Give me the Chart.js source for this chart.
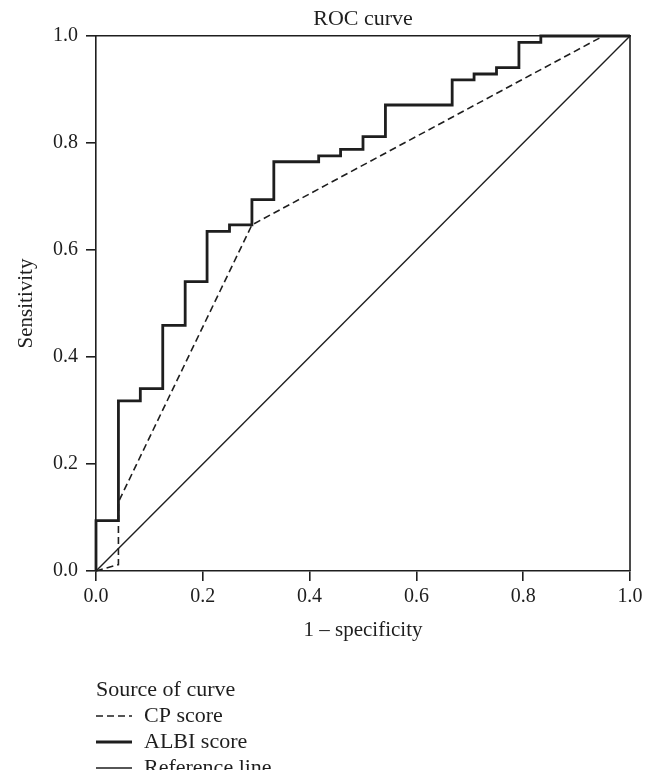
<!DOCTYPE html>
<html>
<head>
<meta charset="utf-8">
<script src="https://cdn.jsdelivr.net/npm/chart.js@4/dist/chart.umd.min.js"></script>
<style>
  html, body { margin: 0; padding: 0; background: #fff; }
</style>
</head>
<body>
<canvas id="rocChart" width="657" height="770"></canvas>
<script>
// Coordonnées ROC (1 - spécificité, sensibilité)
const albiFpr = [0, 0, 0.042, 0.083, 0.125, 0.167, 0.208, 0.25, 0.292, 0.333, 0.417, 0.458, 0.5, 0.542, 0.667, 0.708, 0.75, 0.792, 0.833, 1];
const albiTpr = [0, 0.094, 0.318, 0.341, 0.459, 0.541, 0.635, 0.647, 0.694, 0.765, 0.776, 0.788, 0.812, 0.871, 0.918, 0.929, 0.941, 0.988, 1, 1];

const cpFpr = [0, 0.042, 0.042, 0.292, 0.95, 1];
const cpTpr = [0, 0.012, 0.129, 0.647, 1, 1];

const refFpr = [0, 1];
const refTpr = [0, 1];

const tickValues = [0, 0.2, 0.4, 0.6, 0.8, 1.0];
const seriesLabels = ['CP score', 'ALBI score', 'Reference line'];
const legendTitle = 'Source of curve';

const ink = '#1e1e1e';
const serif = '"Liberation Serif", "Times New Roman", serif';

const toPoints = (xs, ys) => xs.map((x, i) => ({ x: x, y: ys[i] }));

// Bord droit + légende verticale sous le graphique
const frameLegend = {
    id: 'frameLegend',
    afterDraw(chart) {
        const { ctx, chartArea: a } = chart;
        ctx.save();
        ctx.strokeStyle = ink;
        ctx.lineWidth = 1.6;
        ctx.beginPath();
        ctx.moveTo(a.right, a.top);
        ctx.lineTo(a.right, a.bottom);
        ctx.stroke();

        ctx.fillStyle = ink;
        ctx.font = '22px ' + serif;
        ctx.textBaseline = 'middle';
        ctx.textAlign = 'left';
        const x0 = a.left;
        let y = 690;
        ctx.fillText(legendTitle, x0, y);
        chart.data.datasets.forEach(ds => {
            y += 26;
            ctx.beginPath();
            ctx.setLineDash(ds.borderDash || []);
            ctx.lineWidth = ds.borderWidth;
            ctx.moveTo(x0, y);
            ctx.lineTo(x0 + 36, y);
            ctx.stroke();
            ctx.setLineDash([]);
            ctx.fillText(ds.label, x0 + 48, y);
        });
        ctx.restore();
    }
};

const axisTicks = {
    color: ink,
    font: { family: serif, size: 20 },
    callback: v => Number(v).toFixed(1)
};

new Chart(document.getElementById('rocChart'), {
    type: 'scatter',
    data: {
        datasets: [
            {
                label: seriesLabels[0],
                data: toPoints(cpFpr, cpTpr),
                borderColor: ink,
                borderWidth: 1.6,
                borderDash: [7, 4],
                showLine: true,
                pointRadius: 0,
                clip: false
            },
            {
                label: seriesLabels[1],
                data: toPoints(albiFpr, albiTpr),
                borderColor: ink,
                borderWidth: 2.8,
                stepped: 'before',
                showLine: true,
                pointRadius: 0,
                clip: false
            },
            {
                label: seriesLabels[2],
                data: toPoints(refFpr, refTpr),
                borderColor: ink,
                borderWidth: 1.4,
                showLine: true,
                pointRadius: 0,
                clip: false
            }
        ]
    },
    options: {
        responsive: false,
        animation: false,
        events: [],
        layout: { padding: { left: 0, right: 27, top: 0, bottom: 127 } },
        plugins: {
            legend: { display: false },
            tooltip: { enabled: false }
        },
        scales: {
            x: {
                type: 'linear',
                min: 0,
                max: 1,
                afterBuildTicks: s => { s.ticks = tickValues.map(v => ({ value: v })); },
                afterFit: s => { s.height = 72; },
                ticks: { ...axisTicks, padding: 4, maxRotation: 0 },
                grid: { drawOnChartArea: false, drawTicks: true, tickLength: 10, color: ink, lineWidth: 1.6 },
                border: { display: true, color: ink, width: 1.6 },
                title: {
                    display: true,
                    text: '1 – specificity',
                    color: ink,
                    font: { family: serif, size: 21 },
                    padding: { top: 0, bottom: 0 }
                }
            },
            // axe du haut : sert au titre et au bord supérieur
            x2: {
                type: 'linear',
                position: 'top',
                min: 0,
                max: 1,
                afterFit: s => { s.height = 36; },
                ticks: { display: false },
                grid: { display: true, drawOnChartArea: false, drawTicks: false },
                border: { display: true, color: ink, width: 1.6 },
                title: {
                    display: true,
                    text: 'ROC curve',
                    color: ink,
                    font: { family: serif, size: 22 },
                    padding: { top: 6, bottom: 0 }
                }
            },
            y: {
                type: 'linear',
                min: 0,
                max: 1,
                afterBuildTicks: s => { s.ticks = tickValues.map(v => ({ value: v })); },
                afterFit: s => { s.width = 96; },
                ticks: { ...axisTicks, padding: 8 },
                grid: { drawOnChartArea: false, drawTicks: true, tickLength: 10, color: ink, lineWidth: 1.6 },
                border: { display: true, color: ink, width: 1.6 },
                title: {
                    display: true,
                    text: 'Sensitivity',
                    color: ink,
                    font: { family: serif, size: 21 },
                    padding: { top: 14, bottom: 0 }
                }
            }
        }
    },
    plugins: [frameLegend]
});
</script>
</body>
</html>
